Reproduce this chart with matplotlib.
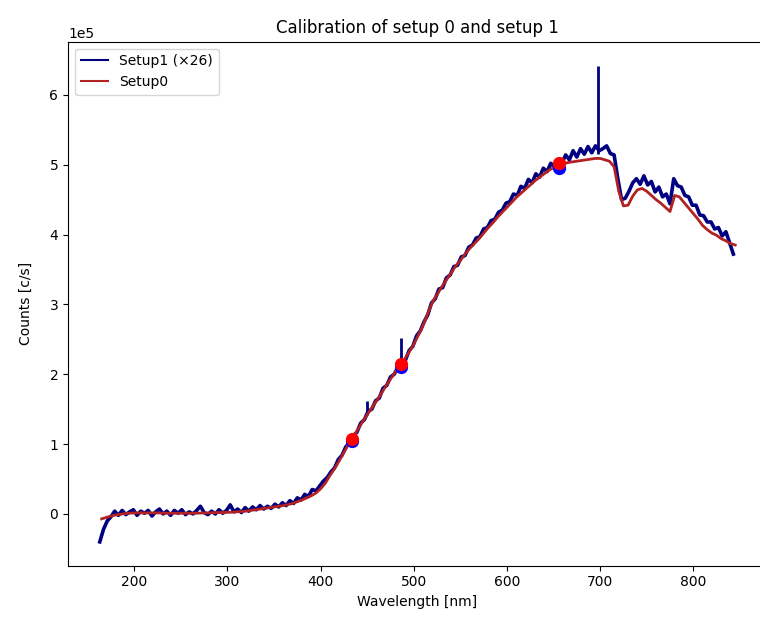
import numpy as np
import matplotlib
matplotlib.use("Agg")
import matplotlib.pyplot as plt

# Setup1 (x26) spectrum, values in units of 1e5 c/s, sampled every 4 nm from 163 nm
setup1_wl = np.arange(163, 844, 4)
setup1_val = [
    -0.40, -0.22, -0.10, -0.04, 0.04, -0.02, 0.05, -0.01, 0.03, 0.06,
    -0.02, 0.04, 0.01, 0.05, -0.03, 0.03, 0.07, 0.00, 0.04, -0.02,
    0.05, 0.01, 0.06, -0.01, 0.03, 0.00, 0.05, 0.11, 0.02, -0.01,
    0.04, 0.00, 0.06, 0.01, 0.05, 0.13, 0.03, 0.07, 0.02, 0.09,
    0.04, 0.10, 0.06, 0.12, 0.07, 0.11, 0.08, 0.14, 0.10, 0.16,
    0.12, 0.19, 0.15, 0.23, 0.20, 0.28, 0.25, 0.35, 0.33, 0.40,
    0.47, 0.52, 0.60, 0.66, 0.78, 0.84, 0.96, 1.02, 1.12, 1.17,
    1.30, 1.35, 1.47, 1.50, 1.62, 1.66, 1.80, 1.84, 1.96, 2.00,
    2.10, 2.18, 2.20, 2.34, 2.40, 2.55, 2.62, 2.75, 2.85, 3.02,
    3.08, 3.22, 3.24, 3.38, 3.42, 3.54, 3.56, 3.68, 3.70, 3.82,
    3.85, 3.95, 3.97, 4.08, 4.10, 4.20, 4.22, 4.32, 4.35, 4.45,
    4.47, 4.58, 4.56, 4.69, 4.66, 4.79, 4.74, 4.87, 4.82, 4.95,
    4.90, 5.02, 4.97, 5.07, 5.02, 5.14, 5.07, 5.20, 5.11, 5.23,
    5.15, 5.26, 5.17, 5.27, 5.20, 5.23, 5.27, 5.16, 5.14, 4.80,
    4.50, 4.52, 4.62, 4.74, 4.80, 4.72, 4.84, 4.71, 4.76, 4.61,
    4.68, 4.54, 4.58, 4.44, 4.80, 4.70, 4.68, 4.56, 4.54, 4.42,
    4.42, 4.28, 4.27, 4.18, 4.18, 4.08, 4.10, 3.98, 4.04, 3.88,
    3.72,
]

# Narrow spikes in the Setup1 spectrum: wavelength, base and top (1e5 c/s)
spike_wl = [450, 486.5, 698]
spike_base = [1.42, 2.15, 5.15]
spike_top = [1.62, 2.52, 6.42]

# Setup0 spectrum, units of 1e5 c/s, every 5 nm from 165 nm
setup0_wl = np.arange(165, 846, 5)
setup0_val = [
    -0.07, -0.05, -0.03, -0.015, -0.005, 0.005, 0.01, 0.015, 0.015, 0.015,
    0.015, 0.015, 0.015, 0.012, 0.01, 0.01, 0.01, 0.01, 0.01, 0.01,
    0.01, 0.012, 0.015, 0.015, 0.017, 0.02, 0.02, 0.022, 0.025, 0.03,
    0.035, 0.04, 0.05, 0.06, 0.07, 0.08, 0.09, 0.10, 0.11, 0.12,
    0.135, 0.15, 0.175, 0.20, 0.23, 0.26, 0.30, 0.36, 0.44, 0.55,
    0.65, 0.76, 0.88, 1.00, 1.10, 1.21, 1.32, 1.42, 1.52, 1.62,
    1.72, 1.83, 1.93, 2.03, 2.12, 2.21, 2.32, 2.43, 2.56, 2.70,
    2.87, 3.03, 3.14, 3.25, 3.35, 3.45, 3.55, 3.63, 3.72, 3.80,
    3.87, 3.94, 4.02, 4.10, 4.17, 4.25, 4.32, 4.39, 4.46, 4.53,
    4.59, 4.65, 4.71, 4.77, 4.82, 4.87, 4.92, 4.96, 4.99, 5.01,
    5.03, 5.04, 5.05, 5.06, 5.07, 5.08, 5.09, 5.09, 5.07, 5.05,
    4.97, 4.62, 4.41, 4.42, 4.55, 4.64, 4.66, 4.62, 4.56, 4.50,
    4.45, 4.39, 4.33, 4.56, 4.54, 4.46, 4.38, 4.30, 4.22, 4.13,
    4.07, 4.02, 3.99, 3.94, 3.91, 3.87, 3.85,
]

# Calibration points (Balmer lines)
cal_wl = [434, 486, 656]
cal_setup1 = [1.04, 2.10, 4.95]
cal_setup0 = [1.08, 2.14, 5.02]

scale = 1e5

fig = plt.figure(figsize=(7.6, 6.28), dpi=100)
ax = fig.add_axes([68 / 760, 62.3 / 628, 699 / 760, 524 / 628])

ax.plot(setup1_wl, np.array(setup1_val) * scale, color="navy", lw=2.6, label="Setup1 (×26)")
ax.vlines(spike_wl, np.array(spike_base) * scale, np.array(spike_top) * scale,
          color="navy", lw=2.0)
ax.plot(setup0_wl, np.array(setup0_val) * scale, color="firebrick", lw=2.0, label="Setup0")
ax.plot(cal_wl, np.array(cal_setup1) * scale, "o", color="blue", ms=8.5)
ax.plot(cal_wl, np.array(cal_setup0) * scale, "o", color="red", ms=8.5)

ax.ticklabel_format(axis="y", style="sci", scilimits=(0, 0))
ax.set_title("Calibration of setup 0 and setup 1")
ax.set_xlabel("Wavelength [nm]")
ax.set_ylabel("Counts [c/s]", labelpad=12)
leg = ax.legend(loc="upper left")
for line in leg.get_lines():
    line.set_linewidth(1.5)

fig.savefig("out.png", dpi=100)
